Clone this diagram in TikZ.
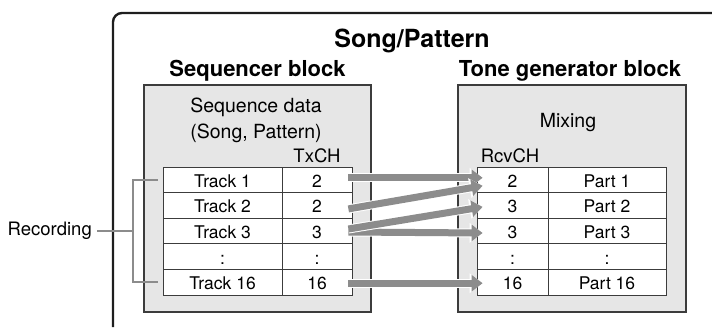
\documentclass[tikz,border=0pt]{standalone}
\usepackage{fontspec}
\setmainfont{TeX Gyre Heros}
\usetikzlibrary{positioning,matrix,arrows.meta}
\definecolor{boxgray}{HTML}{E6E6E6}
\definecolor{linegray}{HTML}{3C3C3C}
\definecolor{arrowgray}{HTML}{8C8C8C}
\definecolor{framecol}{HTML}{1E1E1E}

\begin{document}
\begin{tikzpicture}[x=1pt,y=-1pt,
block/.style={rectangle,draw=linegray,line width=1.3pt,fill=boxgray,minimum width=227pt,minimum height=227pt,inner sep=0pt},
tbl/.style={matrix of nodes,row sep=-0.8pt,column sep=-0.8pt,inner sep=0pt,
  nodes={rectangle,draw=linegray,line width=0.8pt,fill=white,minimum height=25.6pt,inner sep=0pt,text height=16pt,text depth=1pt,font=\fontsize{17.5}{20}\selectfont}},
title/.style={font=\fontsize{25}{30}\selectfont\bfseries,anchor=base,inner sep=0pt},
head/.style={font=\fontsize{22}{26}\selectfont\bfseries,anchor=base,inner sep=0pt},
lbl/.style={font=\fontsize{19.5}{22}\selectfont,anchor=base,inner sep=0pt},
small/.style={font=\fontsize{18.5}{22}\selectfont,anchor=base,inner sep=0pt},
line/.style={draw=arrowgray,line width=7pt,-{Triangle[length=11pt,width=16pt]},
  preaction={draw=white,line width=9pt,-{Triangle[length=13pt,width=19pt]}}},
bracket/.style={draw=arrowgray,line width=2pt}]

\useasboundingbox (0,0) rectangle (712,327);
\draw [framecol,line width=2.4pt,rounded corners=9pt] (712,13) -- (113,13) -- (113,327);

\node [title] (song) at (412,47) {Song/Pattern};
\node [head] (seqhd) at (257.5,76) {Sequencer block};
\node [head] (tghd) at (570,76) {Tone generator block};

\node [block] (seqblk) at (257.5,198.5) {};
\node [block, minimum width=228pt] (tgblk) at (572,198.5) {};

\node [lbl] (seqdata) at (256,112) {Sequence data};
\node [lbl] (songpat) at (256,138) {(Song, Pattern)};
\node [lbl] (mix) at (568,127) {Mixing};

\matrix (seq) [tbl,column 1/.style={nodes={minimum width=119pt}},column 2/.style={nodes={minimum width=70pt}}] at (257.5,231) {
Track 1 & 2 \\
Track 2 & 2 \\
Track 3 & 3 \\
: & : \\
Track 16 & 16 \\
};
\matrix (tg) [tbl,column 1/.style={nodes={minimum width=71pt}},column 2/.style={nodes={minimum width=118pt}}] at (571.5,231) {
2 & Part 1 \\
3 & Part 2 \\
3 & Part 3 \\
: & : \\
16 & Part 16 \\
};

\node [small] (txch) at ([yshift=4pt]seq-1-2.north) {TxCH};
\node [small] (rcvch) at ([xshift=-2.5pt,yshift=4pt]tg-1-1.north) {RcvCH};

\node [small,anchor=east] (rec) at (92,231) {Recording};
\draw [bracket] ([xshift=5pt]rec.east) -- ([xshift=-30pt]seq-3-1.west);
\draw [bracket] ([xshift=-5pt]seq-1-1.west) -- ++(-25pt,0) |- ([xshift=-5pt]seq-5-1.west);

\path [line] ([xshift=-4pt,yshift=2pt]seq-1-2.east) -- ([xshift=6pt,yshift=2pt]tg-1-1.west);
\path [line] ([xshift=-4pt,yshift=-3.5pt]seq-2-2.east) -- ([xshift=6pt,yshift=-6pt]tg-1-1.west);
\path [line] ([xshift=-4pt,yshift=-1pt]seq-3-2.east) -- ([xshift=6pt,yshift=-2pt]tg-3-1.west);
\path [line] ([xshift=-4pt,yshift=2pt]seq-3-2.east) -- ([xshift=6pt,yshift=-1.5pt]tg-2-1.west);
\path [line] ([xshift=-4pt,yshift=-1pt]seq-5-2.east) -- ([xshift=6pt,yshift=-1pt]tg-5-1.west);
\end{tikzpicture}
\end{document}
